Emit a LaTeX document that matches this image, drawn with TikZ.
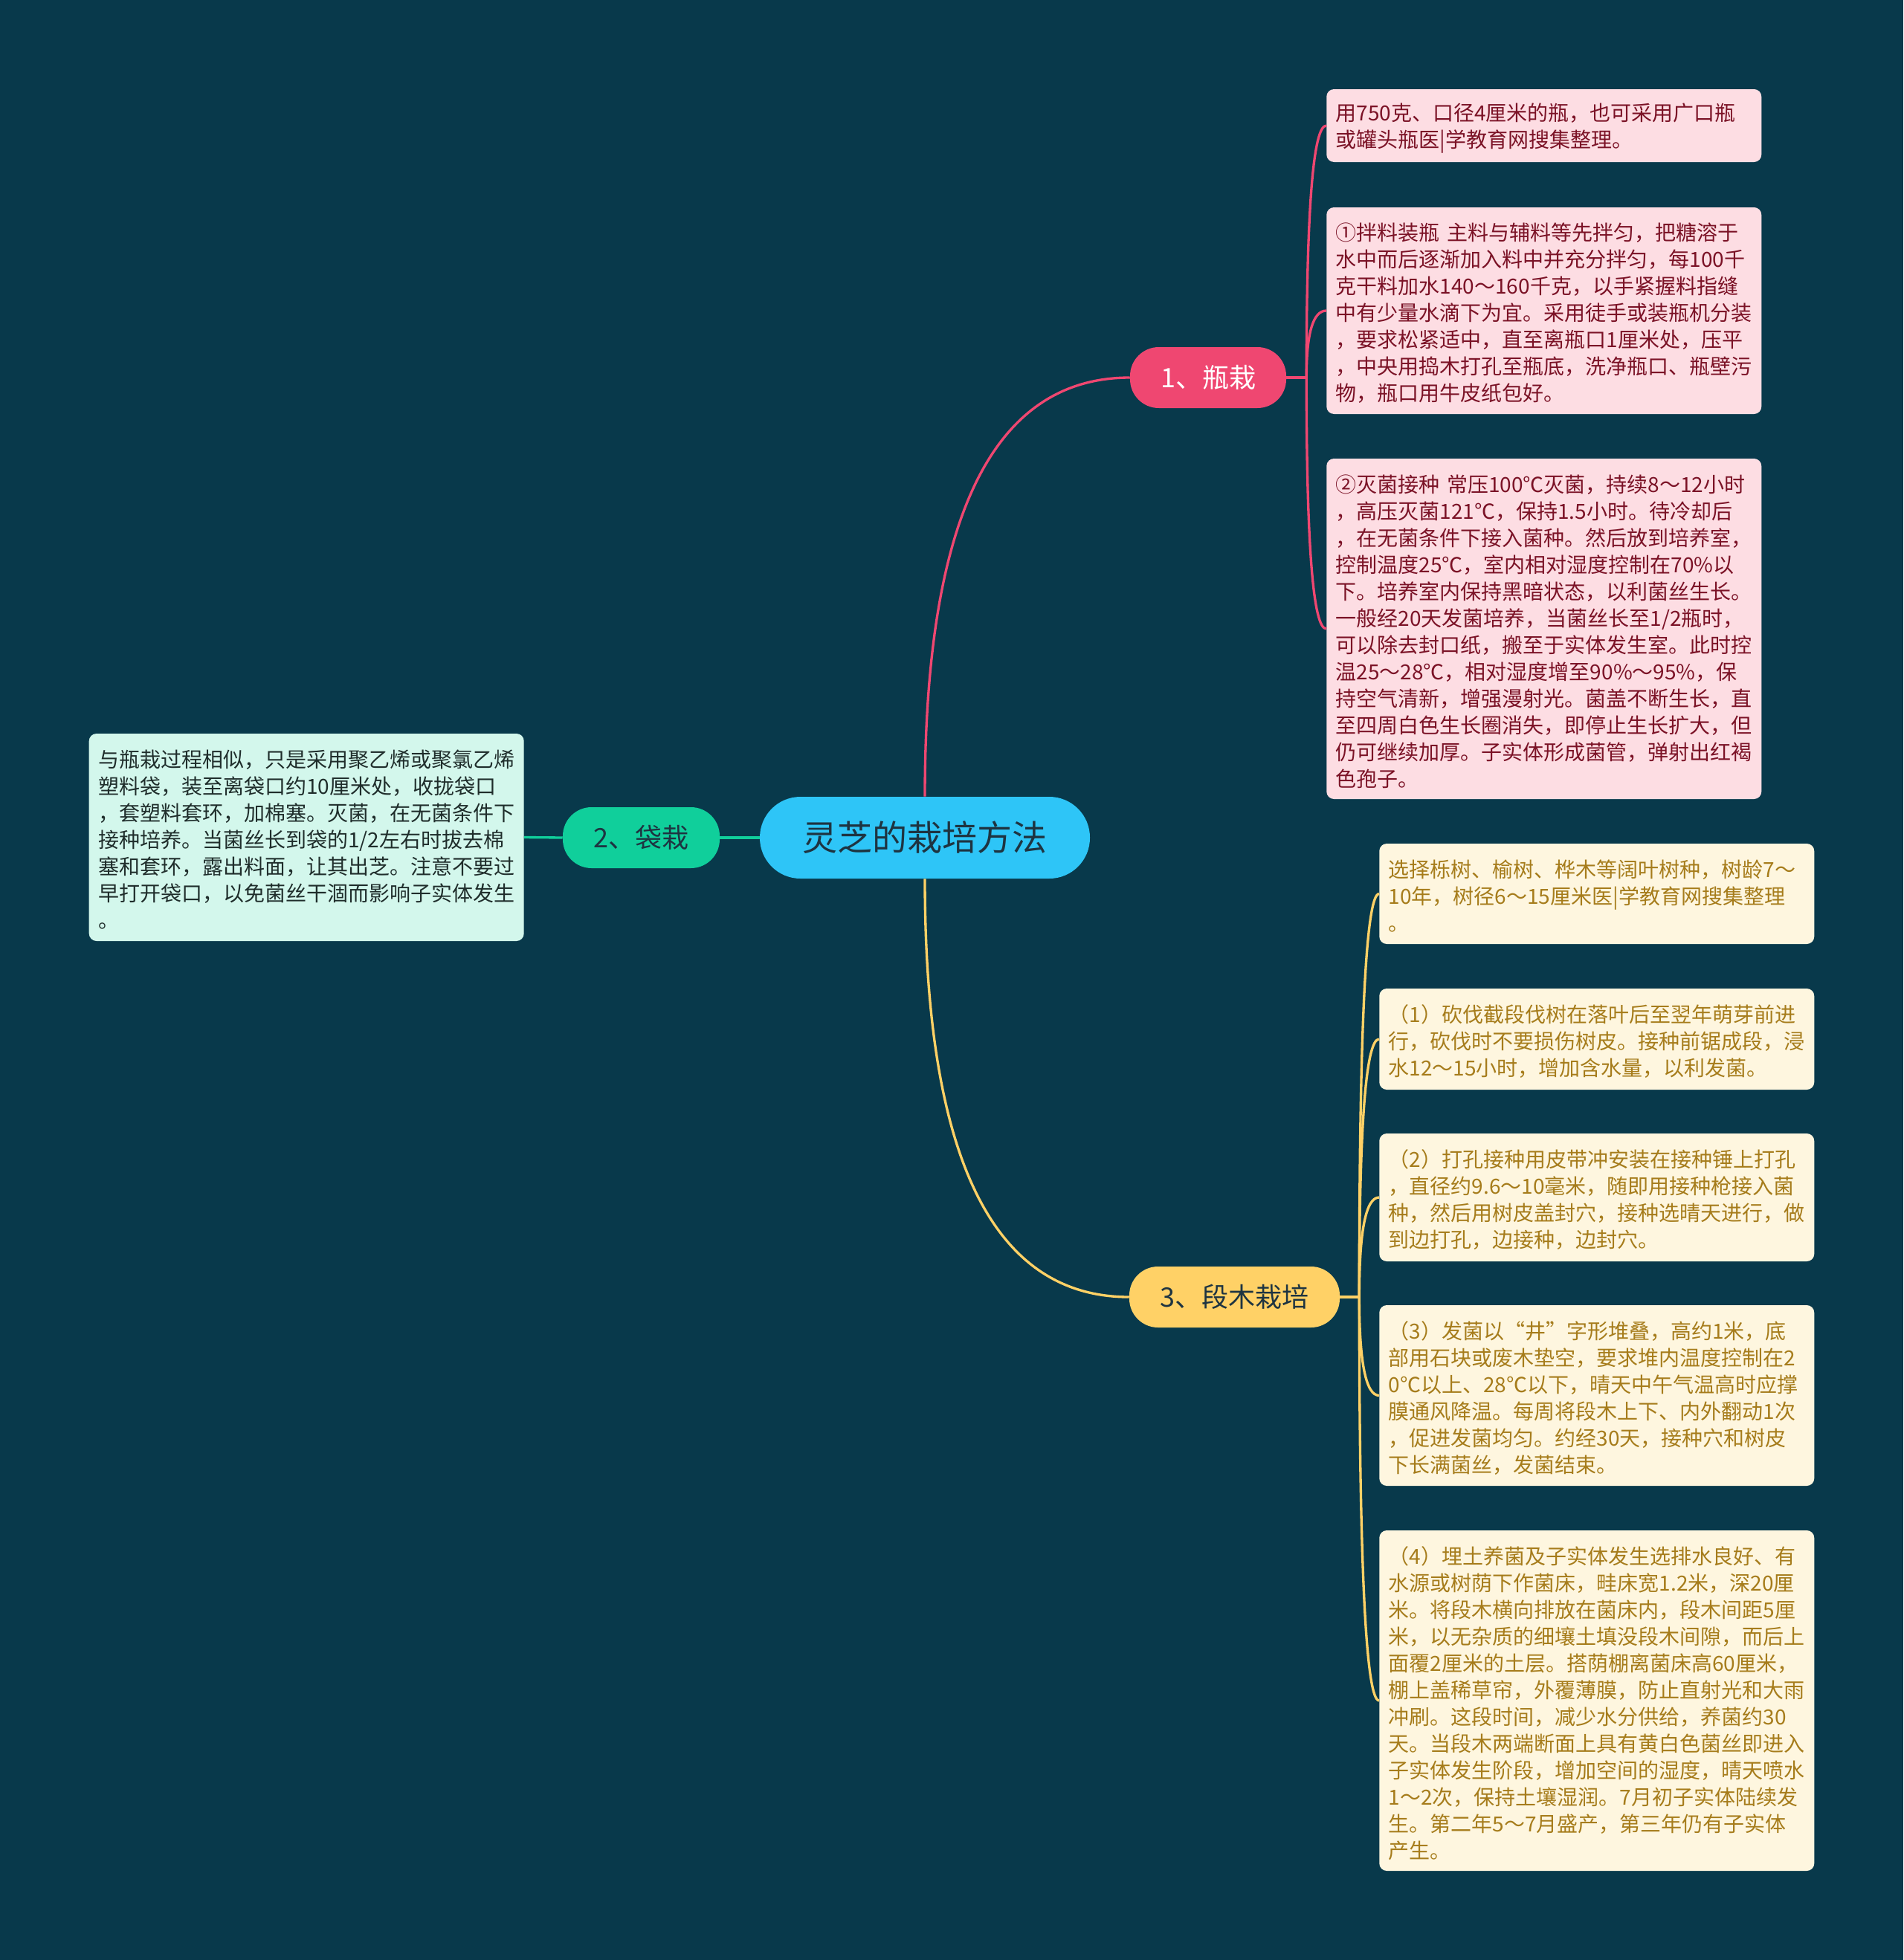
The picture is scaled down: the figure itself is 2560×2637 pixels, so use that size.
\documentclass[tikz,border=0pt]{standalone}
\usepackage{fontspec}
\setmainfont{Noto Sans CJK SC}
\usetikzlibrary{calc}
\definecolor{bg}{HTML}{08394B}
\definecolor{rootfill}{HTML}{2EC5F7}
\definecolor{roottext}{HTML}{1E3441}
\definecolor{pinkc}{HTML}{EF4771}
\definecolor{greenc}{HTML}{10CF9B}
\definecolor{yellowc}{HTML}{FFD166}
\definecolor{pinkleaf}{HTML}{FDDDE3}
\definecolor{pinktext}{HTML}{7B1226}
\definecolor{mintleaf}{HTML}{D3F7EC}
\definecolor{minttext}{HTML}{1F2D2B}
\definecolor{creamleaf}{HTML}{FEF6DF}
\definecolor{creamtext}{HTML}{A67C1B}
\definecolor{darkbranch}{HTML}{1E3441}
\tikzset{
  rootnode/.style={fill=rootfill, text=roottext, rounded corners=41pt,
    minimum width=333pt, minimum height=82.5pt, inner sep=0pt,
    font=\fontsize{35.25}{40}\selectfont},
  branchnode/.style={rounded corners=29pt, minimum height=61.5pt, inner sep=0pt,
    font=\fontsize{27}{32}\selectfont},
  leaf/.style={rounded corners=7.5pt, text width=420pt, inner xsep=9.375pt,
    inner ysep=0pt, align=left, font=\fontsize{21}{27}\selectfont,
    execute at begin node={\rule{0pt}{23pt}}},
  pinkleafn/.style={leaf, fill=pinkleaf, text=pinktext},
  mintleafn/.style={leaf, fill=mintleaf, text=minttext},
  creamleafn/.style={leaf, fill=creamleaf, text=creamtext},
  link/.style={line width=2.5pt},
  quadlink/.style={to path={.. controls ($(\tikztostart)!0.667!(\tikztostart |- \tikztotarget)$) and ($(\tikztotarget)!0.667!(\tikztostart |- \tikztotarget)$) .. (\tikztotarget)}}
}
\begin{document}
\begin{tikzpicture}[x=0.75pt,y=-0.75pt]
\fill[bg] (0,0) rectangle (2560,2637);
\useasboundingbox (0,0) rectangle (2560,2637);

% main nodes
\node[rootnode] (root) at (1244,1127) {灵芝的栽培方法};
\node[branchnode, fill=pinkc, text=white, minimum width=157.5pt] (b1) at (1625,508) {1、瓶栽};
\node[branchnode, fill=greenc, text=darkbranch, minimum width=158.25pt] (b2) at (862.5,1127) {2、袋栽};
\node[branchnode, fill=yellowc, text=darkbranch, minimum width=212.25pt] (b3) at (1660.5,1745) {3、段木栽培};

% pink leaves
\node[pinkleafn, minimum height=73.5pt, anchor=west] (la) at (1784,169) {用750克、口径4厘米的瓶，也可采用广口瓶\\或罐头瓶医|学教育网搜集整理。};
\node[pinkleafn, minimum height=208.5pt, anchor=west] (lb) at (1784,418) {①拌料装瓶~主料与辅料等先拌匀，把糖溶于\\水中而后逐渐加入料中并充分拌匀，每100千\\克干料加水140～160千克，以手紧握料指缝\\中有少量水滴下为宜。采用徒手或装瓶机分装\\，要求松紧适中，直至离瓶口1厘米处，压平\\，中央用捣木打孔至瓶底，洗净瓶口、瓶壁污\\物，瓶口用牛皮纸包好。};
\node[pinkleafn, minimum height=343.5pt, anchor=west] (lc) at (1784,846) {②灭菌接种~常压100℃灭菌，持续8～12小时\\，高压灭菌121℃，保持1.5小时。待冷却后\\，在无菌条件下接入菌种。然后放到培养室，\\控制温度25℃，室内相对湿度控制在70\%以\\下。培养室内保持黑暗状态，以利菌丝生长。\\一般经20天发菌培养，当菌丝长至1/2瓶时，\\可以除去封口纸，搬至于实体发生室。此时控\\温25～28℃，相对湿度增至90\%～95\%，保\\持空气清新，增强漫射光。菌盖不断生长，直\\至四周白色生长圈消失，即停止生长扩大，但\\仍可继续加厚。子实体形成菌管，弹射出红褐\\色孢子。};

% mint leaf
\node[mintleafn, minimum height=209.25pt, anchor=east] (lm) at (705,1126.5) {与瓶栽过程相似，只是采用聚乙烯或聚氯乙烯\\塑料袋，装至离袋口约10厘米处，收拢袋口\\，套塑料套环，加棉塞。灭菌，在无菌条件下\\接种培养。当菌丝长到袋的1/2左右时拔去棉\\塞和套环，露出料面，让其出芝。注意不要过\\早打开袋口，以免菌丝干涸而影响子实体发生\\。};

% cream leaves
\node[creamleafn, minimum height=101.25pt, anchor=west] (ld) at (1855,1202.5) {选择栎树、榆树、桦木等阔叶树种，树龄7～\\10年，树径6～15厘米医|学教育网搜集整理\\。};
\node[creamleafn, minimum height=102pt, anchor=west] (le) at (1855,1398) {（1）砍伐截段伐树在落叶后至翌年萌芽前进\\行，砍伐时不要损伤树皮。接种前锯成段，浸\\水12～15小时，增加含水量，以利发菌。};
\node[creamleafn, minimum height=129pt, anchor=west] (lf) at (1855,1611) {（2）打孔接种用皮带冲安装在接种锤上打孔\\，直径约9.6～10毫米，随即用接种枪接入菌\\种，然后用树皮盖封穴，接种选晴天进行，做\\到边打孔，边接种，边封穴。};
\node[creamleafn, minimum height=182.25pt, anchor=west] (lg) at (1855,1877.5) {（3）发菌以“井”字形堆叠，高约1米，底\\部用石块或废木垫空，要求堆内温度控制在2\\0℃以上、28℃以下，晴天中午气温高时应撑\\膜通风降温。每周将段木上下、内外翻动1次\\，促进发菌均匀。约经30天，接种穴和树皮\\下长满菌丝，发菌结束。};
\node[creamleafn, minimum height=343.5pt, anchor=west] (lh) at (1855,2288) {（4）埋土养菌及子实体发生选排水良好、有\\水源或树荫下作菌床，畦床宽1.2米，深20厘\\米。将段木横向排放在菌床内，段木间距5厘\\米，以无杂质的细壤土填没段木间隙，而后上\\面覆2厘米的土层。搭荫棚离菌床高60厘米，\\棚上盖稀草帘，外覆薄膜，防止直射光和大雨\\冲刷。这段时间，减少水分供给，养菌约30\\天。当段木两端断面上具有黄白色菌丝即进入\\子实体发生阶段，增加空间的湿度，晴天喷水\\1～2次，保持土壤湿润。7月初子实体陆续发\\生。第二年5～7月盛产，第三年仍有子实体\\产生。};

% connectors
\coordinate (j1) at ($(b1.east)+(27,0)$);
\coordinate (j3) at ($(b3.east)+(26,0)$);
\draw[link, pinkc] (root.north) to[quadlink] (b1.west);
\draw[link, yellowc] (root.south) to[quadlink] (b3.west);
\draw[link, greenc] (root.west) -- (b2.east);
\draw[link, greenc] (b2.west) -- (lm.east);
\draw[link, pinkc] (b1.east) -- (j1);
\draw[link, pinkc] (j1) to[quadlink] (la.west);
\draw[link, pinkc] (j1) to[quadlink] (lb.west);
\draw[link, pinkc] (j1) to[quadlink] (lc.west);
\draw[link, yellowc] (b3.east) -- (j3);
\draw[link, yellowc] (j3) to[quadlink] (ld.west);
\draw[link, yellowc] (j3) to[quadlink] (le.west);
\draw[link, yellowc] (j3) to[quadlink] (lf.west);
\draw[link, yellowc] (j3) to[quadlink] (lg.west);
\draw[link, yellowc] (j3) to[quadlink] (lh.west);
\end{tikzpicture}
\end{document}
